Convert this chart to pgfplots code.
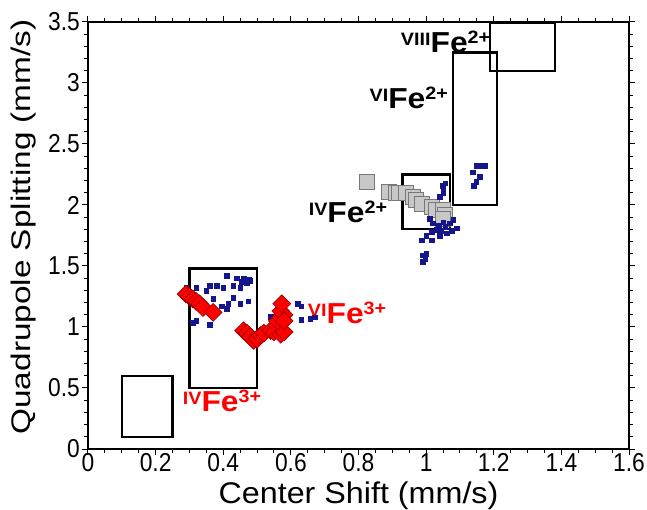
\documentclass[border=0pt]{standalone}
\usepackage{fontspec}
\setmainfont{Liberation Sans}
\newfontfamily\tickfont[FakeStretch=0.88]{Liberation Sans}
\newfontfamily\xlabfont[FakeStretch=1.08]{Liberation Sans}
\newfontfamily\ylabfont[FakeStretch=1.24]{Liberation Sans}
\newfontfamily\febold[FakeStretch=1.1]{Liberation Sans}
\usepackage{pgfplots}
\pgfplotsset{compat=1.18}
\definecolor{navyb}{RGB}{22,22,140}
\definecolor{grayf}{RGB}{200,200,200}
\definecolor{grayd}{RGB}{120,120,120}
\definecolor{redd}{RGB}{150,0,0}
\newcommand\felab[2]{{\fontsize{18}{18}\selectfont\raisebox{7bp}{#1}}Fe{\fontsize{18}{18}\selectfont\raisebox{9bp}{#2}}}
\begin{document}
\begin{tikzpicture}
\begin{axis}[
  scale only axis, width=541bp, height=427bp,
  xmin=0, xmax=1.6, ymin=0, ymax=3.5,
  xtick={0,0.2,0.4,0.6,0.8,1,1.2,1.4,1.6},
  xticklabels={0,0.2,0.4,0.6,0.8,1,1.2,1.4,1.6},
  ytick={0,0.5,1,1.5,2,2.5,3,3.5},
  yticklabels={0,0.5,1,1.5,2,2.5,3,3.5},
  minor x tick num=3, minor y tick num=4,
  tick align=outside, tick pos=both,
  major tick length=6bp, minor tick length=3.5bp,
  axis line style={line width=1.2bp},
  every tick/.style={black, line width=1bp},
  tick label style={font=\fontsize{26}{26}\selectfont\tickfont, inner sep=1bp},
  xticklabel style={yshift=2.5bp},
  yticklabel style={xshift=-1bp},
  xlabel={Center Shift (mm/s)},
  xlabel style={font=\fontsize{30}{30}\selectfont\xlabfont, at={(rel axis cs:0.5,-0.1265)}, anchor=base, inner sep=0pt},
  ylabel={Quadrupole Splitting (mm/s)},
  ylabel style={font=\fontsize{27}{27}\selectfont\ylabfont, at={(rel axis cs:-0.1183,0.52)}, anchor=center, inner sep=0pt},
  clip=false,
]
% gray squares
\addplot[only marks, mark=square*, mark size=7.5bp, mark options={fill=grayf, draw=grayd, line width=0.8bp}] coordinates {
(0.825,2.19) (0.89,2.11) (0.91,2.10) (0.92,2.10) (0.94,2.10) (0.96,2.07) (0.97,2.04)
(0.987,2.01) (1.017,1.985) (1.03,1.96) (1.05,1.96) (1.056,1.92) (1.05,1.89)
};
% blue small squares
\addplot[only marks, mark=square*, mark size=2.3bp, mark options={fill=navyb, draw=navyb}] coordinates {
(0.41,1.42) (0.44,1.40) (0.46,1.40) (0.464,1.37) (0.48,1.38) (0.45,1.32) (0.43,1.34)
(0.40,1.32) (0.38,1.34) (0.36,1.34) (0.35,1.30) (0.32,1.32) (0.29,1.32) (0.37,1.23)
(0.43,1.24) (0.474,1.21) (0.45,1.19) (0.415,1.19) (0.41,1.15) (0.395,1.17) (0.32,1.05)
(0.31,1.035) (0.36,1.02) (0.47,1.36) (0.475,1.39) (0.455,1.37) (0.54,1.085)
(0.62,1.19) (0.63,1.17) (0.63,1.06) (0.657,1.07) (0.67,1.08)
(1.056,2.18) (1.05,2.14) (1.047,2.16) (1.05,2.10) (1.04,2.07) (1.01,1.89) (1.02,1.85)
(1.037,1.835) (1.056,1.82) (1.07,1.85) (1.08,1.88) (1.09,1.81) (1.075,1.79) (1.06,1.77)
(1.04,1.75) (1.017,1.78) (1.0,1.75) (0.987,1.71) (1.017,1.71) (0.99,1.59) (0.997,1.56)
(0.99,1.535) (1.0,1.60) (1.03,1.80) (1.05,1.86) (1.045,1.79)
(1.165,2.32) (1.175,2.32) (1.15,2.32) (1.138,2.27) (1.158,2.23) (1.148,2.19) (1.14,2.16)
};
% red diamonds
\addplot[only marks, mark=square*, mark size=6.3bp, mark options={rotate=45, fill=red, draw=redd, line width=0.6bp}] coordinates {
(0.29,1.27) (0.30,1.25) (0.31,1.23) (0.32,1.21) (0.33,1.19) (0.34,1.16) (0.37,1.12)
(0.46,0.97) (0.47,0.95) (0.48,0.92) (0.49,0.89) (0.50,0.90) (0.51,0.93) (0.52,0.95)
(0.54,0.97) (0.55,0.96) (0.57,0.94) (0.58,0.96) (0.56,1.05) (0.57,1.08) (0.58,1.10)
(0.57,1.13) (0.573,1.19) (0.58,1.05)
};
% boxes
\addplot[black, line width=2.2bp] coordinates {(0.1,0.1) (0.25,0.1) (0.25,0.6) (0.1,0.6) (0.1,0.1)} -- cycle;
\addplot[black, line width=2.2bp] coordinates {(0.3,0.5) (0.5,0.5) (0.5,1.48) (0.3,1.48) (0.3,0.5)} -- cycle;
\addplot[black, line width=2.2bp] coordinates {(0.93,1.8) (1.07,1.8) (1.07,2.25) (0.93,2.25) (0.93,1.8)} -- cycle;
\addplot[black, line width=2.2bp] coordinates {(1.08,2.0) (1.21,2.0) (1.21,3.25) (1.08,3.25) (1.08,2.0)} -- cycle;
\addplot[black, line width=2.2bp] coordinates {(1.19,3.1) (1.38,3.1) (1.38,3.49) (1.19,3.49) (1.19,3.1)} -- cycle;
% labels
\node[anchor=base east, inner sep=0pt, font=\fontsize{29}{29}\selectfont\febold\bfseries] at (axis cs:1.19,3.25) {\felab{VIII}{2+}};
\node[anchor=base east, inner sep=0pt, font=\fontsize{29}{29}\selectfont\febold\bfseries] at (axis cs:1.065,2.79) {\felab{VI}{2+}};
\node[anchor=base east, inner sep=0pt, font=\fontsize{29}{29}\selectfont\febold\bfseries] at (axis cs:0.885,1.86) {\felab{IV}{2+}};
\node[anchor=base west, inner sep=0pt, text=red, font=\fontsize{29}{29}\selectfont\febold\bfseries] at (axis cs:0.65,1.03) {\felab{VI}{3+}};
\node[anchor=base west, inner sep=0pt, text=red, font=\fontsize{29}{29}\selectfont\febold\bfseries] at (axis cs:0.28,0.31) {\felab{IV}{3+}};
\end{axis}
\pgfresetboundingbox
\path ([shift={(-88bp,-61bp)}]current axis.south west) rectangle ([shift={(18bp,22bp)}]current axis.north east);
\end{tikzpicture}
\end{document}
